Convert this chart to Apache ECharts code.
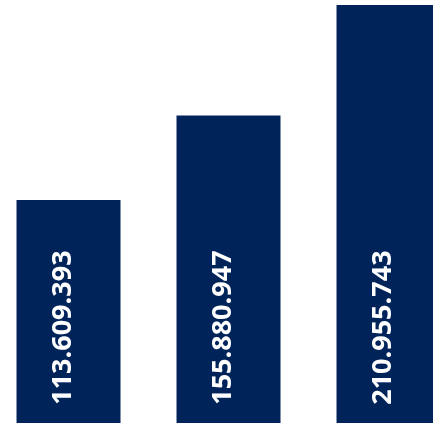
<!DOCTYPE html>
<html><head><meta charset="utf-8">
<script src="https://cdn.jsdelivr.net/npm/echarts@6/dist/echarts.min.js"></script>
<style>html,body{margin:0;padding:0;background:#fff}#c{width:433px;height:423px}</style>
</head><body><div id="c"></div>
<script>
const categories = ['A', 'B', 'C'];
const values = [113609393, 155880947, 210955743];
const labels = ['113.609.393', '155.880.947', '210.955.743'];

const chart = echarts.init(document.getElementById('c'));
chart.setOption({
  animation: false,
  grid: {left: 68.5, top: 0, width: 320, bottom: 0},
  xAxis: {type: 'category', data: categories, show: false, boundaryGap: false},
  yAxis: {type: 'value', min: 2300000, max: 213500000, show: false},
  series: [{
    type: 'bar',
    data: values,
    barWidth: 104,
    clip: false,
    itemStyle: {color: '#00245a'},
    label: {
      show: true,
      position: 'insideBottom',
      rotate: 90,
      align: 'center',
      verticalAlign: 'middle',
      distance: 100,
      offset: [0, -5],
      color: '#fff',
      fontFamily: 'Open Sans',
      fontWeight: 'bold',
      fontSize: 27,
      formatter: p => labels[p.dataIndex]
    }
  }]
});
</script></body></html>
